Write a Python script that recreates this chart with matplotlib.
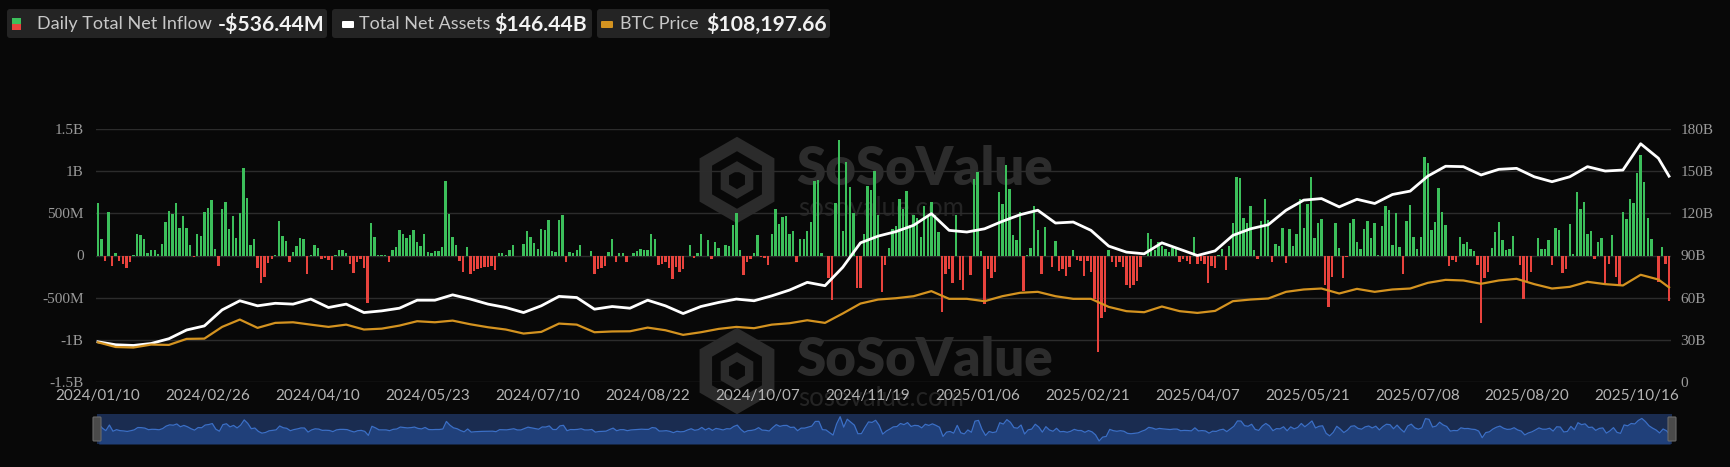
import matplotlib as mpl
mpl.use('Agg')
import matplotlib.pyplot as plt
from matplotlib.patches import FancyBboxPatch, RegularPolygon, Rectangle
from matplotlib.transforms import IdentityTransform

W, H = 1730, 467

# daily total net inflow, $M (one value per trading day, 2024/01/10 .. 2025/10/16)
flow_p1 = [620, 190, -70, 510, -130, 30, -70, -100, -150, -80,
           10, 250, 240, 190, 30, 70, 60, 20, 140, 400,
           530, 490, 620, 330, 470, 330, 130, -20, 250, 230,
           510, 560, 660, 80, -130, 550, 640, 320, 470, 210,
           500, 1040, 680, 130, 200, -150, -330, -260, -90, -40,
           10, 410, 230, 170, -80, 40, 110, 210, 200, -220,
           5, 120, 90, -40, -30, -50, -170]
flow_p2 = [5, 60, 60, 35, -100, -210, -75, -45, -150, -560,
           380, 220, 10, 5, 5, -75, 65, 100, 300, 260,
           210, 240, 300, 160, 110, 260, 45, 30, 50, 50,
           100, 880, 490, 220, 130, -60, -195, 100, -220, -185,
           -165, -145, -140, -140, -125, -175, 30, 25, 10, 70,
           125, 0, 0, 140, 290, 220, 150, 75, 310, 300,
           420, 50, 45, 420, 480, -75, 45, 35, 60, 125,
           0, 0, 50, -225, -160, -145, -125, 45, 190, -80,
           30]
flow_p3 = [30, -75, 0, 30, 50, 80, 60, 60, 250, 200,
           -115, -105, -75, -145, -280, -135, -195, -160, 0, 125,
           -35, 30, 260, 0, 180, -45, 160, 90, 0, 130,
           110, 360, 500, 60, -235, -75, -45, 30, 240, -15,
           -35, -110, 250, 550, 370, 460, 470, 260, 290, -75,
           190, 190, 290, 400, 880, 890, 30, 0, -270, -530,
           620, 1370, 290, 1110, 810, 500, -390, -380, 260, 830,
           780, 1000, 480, -430, -115, 90, 320, 350]
flow_p4 = [670, 550, 760, 360, 475, 445, 220, 590, 470, 630,
           475, 280, -670, -225, -155, -330, 475, -290, -410, 0,
           -235, 910, 990, 50, -570, -155, -270, -195, 750, 610,
           1070, 790, 240, 180, 510, -420, 10, 90, 590, 300,
           -225, 340, 0, -135, 170, -185, -155, -240, -135, 60,
           -55, -60, -245, -60, -195, -510, -1140, -740, -670, 60,
           -75, -135, -75, -135, -350, -390, -350, -300, -135, 0,
           270, 200, 70, 160, 110, 80, 45, 90, 90, -80]
flow_p5 = [-45, -60, -95, 220, -100, -65, -105, -330, -127, -150,
           2, 76, -170, 107, 381, 930, 920, 440, 380, 590,
           60, -45, 410, 670, 420, -75, 140, 115, 330, -85,
           320, 115, 260, 670, 330, 610, 930, 210, 380, 430,
           -350, -610, -250, 380, 90, -270, -15, 380, 430, 160,
           80, 320, 410, 210, 390, 5, 350, 590, 545, 125,
           500, 95, -225, 410, 600, 220, 80, 220, 1170, 1100]
flow_p6 = [300, 400, 800, 515, 360, -120, -55, -75, 220, 140,
           155, 80, 50, -115, -800, -270, -195, 90, 280, 400,
           180, 60, 80, 230, 0, -115, -510, -310, -195, 0,
           210, 80, 75, 180, -115, 330, 300, -210, -155, 370,
           20, 750, 550, 630, 260, 290, -45, 160, 210, -330,
           -95, 240, -250, -350, 520, 430, 670, 620, 980, 1190,
           870, 440, 195, 0, -310, 100, -95, -536.44]
flows = flow_p1 + flow_p2 + flow_p3 + flow_p4 + flow_p5 + flow_p6
days = list(range(len(flows)))

# weekly samples (every 5th trading day + last day) for the two lines
line_days = list(range(0, 441, 5)) + [443]
net_assets = [28.6, 26.5, 26, 27.4, 30.8, 37, 39.9, 51.3, 57.8, 54.2, 56, 55.4, 59, 53,
              55.4, 49.4, 50.6, 52.5, 58.2, 58.2, 62, 59, 55.4, 53, 49.4, 54.2, 60.9, 60.1, 51.8, 53.7,
              52.5, 58.2, 54.2, 48.7, 53.7, 56.6, 59, 57.8, 61.3, 65.4, 70.9, 68.5, 81.6, 99, 103.8, 107,
              111.5, 119.8, 107.9, 106.7, 109, 114.3, 119, 122.2, 113.1, 113.8, 107.9, 96.7, 92.4, 91.2, 99, 94.5,
              90, 93.3, 104.3, 109, 111.9, 122.2, 129.4, 130.5, 124.6, 130, 127, 133.4, 135.8, 146.5, 153.5,
              153.2, 147.3, 151.3, 152, 146, 142.5, 146, 153.2, 150.1, 150.8, 169.5, 159.2, 146.44]
btc_price = [45.4, 40, 39.4, 42.8, 42.4, 49.3, 49.6, 63, 71.4, 61.9, 67.6, 68.3, 65.6, 63,
             65.6, 60, 61, 64.5, 69.5, 68.3, 70.2, 66, 62.6, 60, 55.4, 57.3, 66.8, 65.6, 56.9, 57.8,
             58, 62.2, 59.2, 53.9, 56.9, 60.7, 63, 61.5, 65.6, 67.2, 70.6, 67.6, 78.3, 89.7, 94.3, 95.8,
             98.1, 103.9, 95.1, 95.1, 92.4, 98.1, 102, 103.1, 98.1, 95.1, 95.1, 85.9, 81, 79.8, 86.3, 81,
             79, 81.3, 92.4, 94.3, 95.5, 103.1, 105.8, 106.9, 101.2, 106.5, 103.1, 105.8, 106.9, 113.4, 116.8,
             116.1, 112.3, 116.1, 118, 111.9, 106.9, 108.8, 114.6, 111.9, 110.4, 122.6, 117.2, 108.2]

tick_days = [0, 31, 62, 93, 124, 155, 186, 217, 248, 279, 310, 341, 372, 403]
tick_labels = ['2024/01/10', '2024/02/26', '2024/04/10', '2024/05/23', '2024/07/10',
               '2024/08/22', '2024/10/07', '2024/11/19', '2025/01/06', '2025/02/21',
               '2025/04/07', '2025/05/21', '2025/07/08', '2025/08/20']
last_label = '2025/10/16'
left_ticks = [-1500, -1000, -500, 0, 500, 1000, 1500]
left_labels = ['-1.5B', '-1B', '-500M', '0', '500M', '1B', '1.5B']
right_ticks = [0, 30, 60, 90, 120, 150, 180]
right_labels = ['0', '30B', '60B', '90B', '120B', '150B', '180B']

BG = '#080808'
GREEN = '#3cbf5b'
RED = '#e8433d'
ORANGE = '#d49320'


def fx(x):
    return x / W


def fy(y):
    return 1 - y / H


fig = plt.figure(figsize=(W / 100, H / 100), dpi=100, facecolor=BG)

# watermarks (behind the chart)
for (cx, cy) in [(737, 180), (737, 371)]:
    hexa = RegularPolygon((cx, H - cy), 6, radius=36, orientation=0,
                          facecolor='none', edgecolor='#2b2b2b', lw=9,
                          transform=IdentityTransform(), zorder=-5)
    fig.patches.append(hexa)
    inner = RegularPolygon((cx, H - cy), 6, radius=14, orientation=0,
                           facecolor='none', edgecolor='#2b2b2b', lw=6,
                           transform=IdentityTransform(), zorder=-5)
    fig.patches.append(inner)
for (ty, sy) in [(169, 208), (360, 399)]:
    fig.text(fx(796), fy(ty), 'SoSoValue', family='Lato', weight='heavy', fontsize=38,
             color='#2c2c2c', va='center', ha='left', zorder=-5)
    fig.text(fx(798), fy(sy), 'sosovalue.com', family='Lato', fontsize=18.5,
             color='#242424', va='center', ha='left', zorder=-5)

# main axes, placed in pixels
x0, x1, ytop, ybot = 96.2, 1670.8, 129, 382
ax = fig.add_axes([fx(x0), fy(ybot), fx(x1 - x0), (ybot - ytop) / H])
ax.set_facecolor('none')
ax.set_xlim(-0.5, len(flows) - 0.5)
ax.set_ylim(-1500, 1500)
cols = [GREEN if v >= 0 else RED for v in flows]
ax.bar(days, flows, width=0.68, color=cols, zorder=2)
ax.set_yticks(left_ticks)
ax.set_yticklabels(left_labels, family='Liberation Serif', fontsize=11, color='#9a9a9a')
ax.yaxis.grid(True, color='#2c2c2c', lw=1, zorder=0)
ax.set_xticks(tick_days)
ax.set_xticklabels(tick_labels, family='Lato', fontsize=11, color='#b4b4b4')
ax.annotate(last_label, xy=(len(flows) - 1, 0), xycoords=('data', 'axes fraction'),
            xytext=(7.5, -5.2), textcoords='offset points', ha='right', va='top',
            family='Lato', fontsize=11, color='#b4b4b4')
ax.tick_params(axis='y', length=0, pad=9)
ax.tick_params(axis='x', length=0, pad=5.2)
for s in ax.spines.values():
    s.set_visible(False)

ax2 = ax.twinx()
ax2.set_ylim(0, 180)
ax2.set_yticks(right_ticks)
ax2.set_yticklabels(right_labels, family='Liberation Serif', fontsize=11, color='#9a9a9a')
ax2.tick_params(axis='y', length=0, pad=7)
ax2.plot(line_days, net_assets, color='white', lw=2.0, zorder=4)
for s in ax2.spines.values():
    s.set_visible(False)

ax3 = ax.twinx()
ax3.set_ylim(0, 289.3)
ax3.axis('off')
ax3.plot(line_days, btc_price, color=ORANGE, lw=1.6, zorder=3)

# legend chips
boxes = [(7, 327), (332, 592), (597, 830)]
for (a, b) in boxes:
    fig.patches.append(FancyBboxPatch((a + 3, H - 38 + 3), b - a - 6, 29 - 6,
                                      boxstyle='round,pad=3', facecolor='#242424',
                                      edgecolor='none', transform=IdentityTransform()))
fig.patches.append(Rectangle((12, H - 24), 9, 6, facecolor=GREEN, transform=IdentityTransform()))
fig.patches.append(Rectangle((12, H - 30), 9, 6, facecolor=RED, transform=IdentityTransform()))
fig.patches.append(FancyBboxPatch((343, H - 27), 10, 5, boxstyle='round,pad=1',
                                  facecolor='white', edgecolor='none', transform=IdentityTransform()))
fig.patches.append(FancyBboxPatch((602, H - 27), 10, 5, boxstyle='round,pad=1',
                                  facecolor=ORANGE, edgecolor='none', transform=IdentityTransform()))
legend_items = [(37, 'Daily Total Net Inflow', 218, '-$536.44M'),
                (359, 'Total Net Assets', 494, '$146.44B'),
                (620, 'BTC Price', 706, '$108,197.66')]
for (lx, lt, vx, vt) in legend_items:
    fig.text(fx(lx), fy(24), lt, family='Lato', fontsize=13,
             color='#c8c8c8', va='center')
    fig.text(fx(vx), fy(24), vt, family='Lato', weight='bold', fontsize=15.2,
             color='#f2f2f2', va='center')

# range navigator
nav = fig.add_axes([fx(97), fy(444), fx(1672 - 97), 30 / H])
nav.set_facecolor('#1a2c50')
nav.set_xlim(-0.5, len(flows) - 0.5)
nav.set_ylim(-1450, 1650)
nav.fill_between(days, flows, -1450, color='#20407a', lw=0)
nav.plot(days, flows, color='#3b6fc6', lw=0.9)
nav.set_xticks([])
nav.set_yticks([])
for s in nav.spines.values():
    s.set_visible(False)
for hx in [97, 1672]:
    fig.patches.append(FancyBboxPatch((hx - 3, H - 440), 6, 22, boxstyle='round,pad=1',
                                      facecolor='#4a4a4a', edgecolor='#6a6a6a', lw=0.8,
                                      transform=IdentityTransform()))

fig.savefig('out.png', dpi=100, facecolor=BG)
